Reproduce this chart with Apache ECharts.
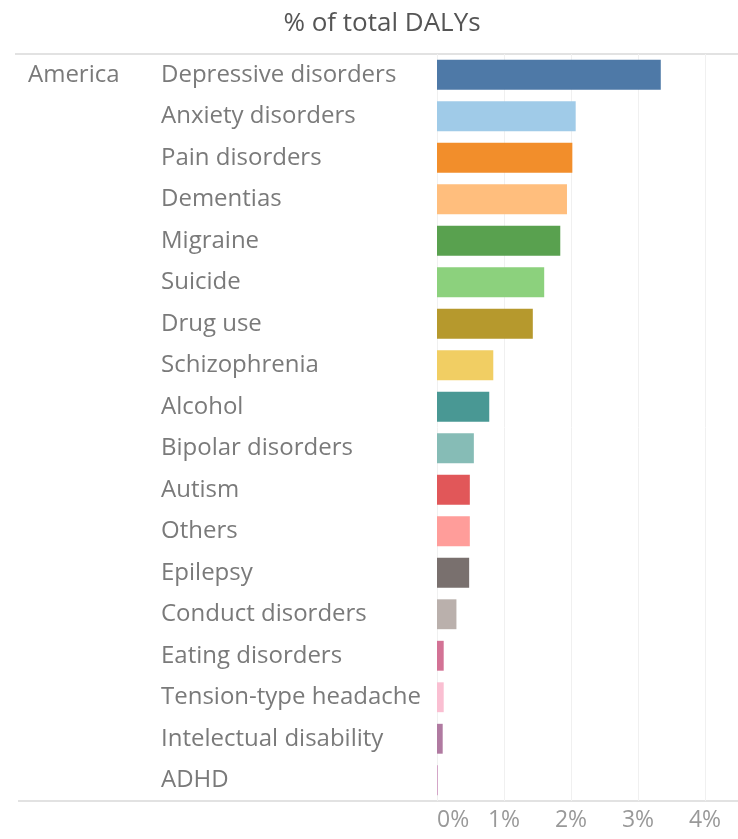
<!DOCTYPE html>
<html><head><meta charset="utf-8">
<script src="https://cdn.jsdelivr.net/npm/echarts@6/dist/echarts.min.js"></script>
<style>html,body{margin:0;padding:0;background:#fff}#c{width:738px;height:839px}</style>
</head><body><div id="c"></div>
<script>
const categories = ["Depressive disorders","Anxiety disorders","Pain disorders","Dementias","Migraine","Suicide","Drug use","Schizophrenia","Alcohol","Bipolar disorders","Autism","Others","Epilepsy","Conduct disorders","Eating disorders","Tension-type headache","Intelectual disability","ADHD"];
const values = [3.34,2.07,2.02,1.94,1.84,1.60,1.43,0.84,0.78,0.55,0.49,0.49,0.48,0.29,0.10,0.10,0.085,0.015];
const colors = ["#4e79a7","#a0cbe8","#f28e2b","#ffbe7d","#59a14f","#8cd17d","#b6992d","#f1ce63","#499894","#86bcb6","#e15759","#ff9d9a","#79706e","#bab0ac","#d37295","#fabfd2","#b07aa1","#d4a6c8"];
const region = "America";
const tickValues = [0,1,2,3,4];
const title = "% of total DALYs";

const font = "Open Sans";
const chart = echarts.init(document.getElementById('c'));
chart.setOption({
  animation:false,
  title:{text:title,left:377,top:6,textAlign:'center',textStyle:{fontFamily:font,fontWeight:'normal',fontSize:26,color:'#555'}},
  grid:{left:437,right:33,top:54,bottom:38,containLabel:false},
  xAxis:{type:'value',min:0,max:4,interval:1,
    axisLine:{show:false},axisTick:{show:false},
    splitLine:{show:true,lineStyle:{color:'#f0f0f0',width:1}},
    axisLabel:{formatter:v=>v+'%',fontFamily:font,fontSize:23,color:'#999',margin:8,alignMinLabel:'left'}},
  yAxis:{type:'category',data:categories,inverse:true,
    axisLine:{show:false},axisTick:{show:false},
    axisLabel:{align:'left',margin:276,fontFamily:font,fontSize:24,color:'#7a7a7a',padding:[8,0,0,0]}},
  series:[{type:'bar',barCategoryGap:'28%',
    data:values.map((v,i)=>({value:v,itemStyle:{color:colors[i]}}))}],
  graphic:[
    {type:'text',left:28,top:63,style:{text:region,fontFamily:font,fontSize:24,fill:'#7a7a7a'}},
    {type:'line',shape:{x1:15,y1:54,x2:738,y2:54},style:{stroke:'#d8d8d8',lineWidth:1.5}},
    {type:'line',shape:{x1:18,y1:801,x2:738,y2:801},style:{stroke:'#d8d8d8',lineWidth:1.5}}
  ]
});
</script></body></html>
